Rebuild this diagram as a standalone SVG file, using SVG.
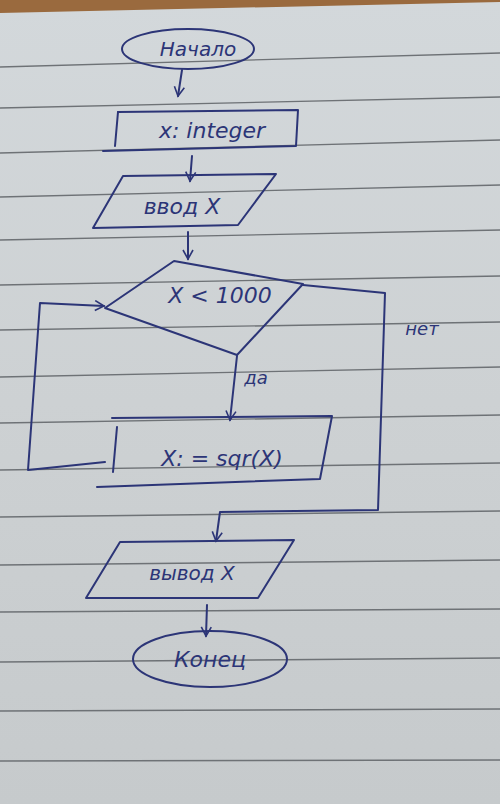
<svg xmlns="http://www.w3.org/2000/svg" width="500" height="804" viewBox="0 0 500 804">
<defs>
<linearGradient id="paper" x1="0" y1="0" x2="0" y2="1">
<stop offset="0" stop-color="#d3d8db"/>
<stop offset="0.5" stop-color="#cdd1d3"/>
<stop offset="1" stop-color="#c6cacc"/>
</linearGradient>
<marker id="arr" viewBox="0 0 12 12" refX="10" refY="6" markerWidth="12" markerHeight="12" markerUnits="userSpaceOnUse" orient="auto">
<path d="M1,1 L10,6 L1,11" fill="none" stroke="#2c3577" stroke-width="1.6"/>
</marker>
<style>
.ink{fill:none;stroke:#2c3577;stroke-width:2;stroke-linejoin:round;stroke-linecap:round}
.rule{stroke:#6e7276;stroke-width:1.4}
.t{font-family:"DejaVu Sans","Liberation Sans",sans-serif;font-style:italic;fill:#2c3577;text-anchor:middle}
</style>
</defs>
<rect width="500" height="804" fill="url(#paper)"/>
<polygon points="0,0 500,0 500,2 0,13" fill="#9a6a3e"/>
<g id="ruling">
<line class="rule" x1="0" y1="67" x2="500" y2="53"/>
<line class="rule" x1="0" y1="108" x2="500" y2="97"/>
<line class="rule" x1="0" y1="153" x2="500" y2="140"/>
<line class="rule" x1="0" y1="197" x2="500" y2="185"/>
<line class="rule" x1="0" y1="240" x2="500" y2="230"/>
<line class="rule" x1="0" y1="285" x2="500" y2="276"/>
<line class="rule" x1="0" y1="330" x2="500" y2="322"/>
<line class="rule" x1="0" y1="377" x2="500" y2="367"/>
<line class="rule" x1="0" y1="423" x2="500" y2="415"/>
<line class="rule" x1="0" y1="470" x2="500" y2="463"/>
<line class="rule" x1="0" y1="517" x2="500" y2="511"/>
<line class="rule" x1="0" y1="565" x2="500" y2="560"/>
<line class="rule" x1="0" y1="612" x2="500" y2="609"/>
<line class="rule" x1="0" y1="662" x2="500" y2="658"/>
<line class="rule" x1="0" y1="711" x2="500" y2="709"/>
<line class="rule" x1="0" y1="761" x2="500" y2="760"/>
</g>
<g id="connectors">
<path class="ink" d="M182,70 L178,96" marker-end="url(#arr)"/>
<path class="ink" d="M192,156 L190,181" marker-end="url(#arr)"/>
<path class="ink" d="M188,232 L188,259" marker-end="url(#arr)"/>
<path class="ink" d="M237,356 L230,420" marker-end="url(#arr)"/>
<path class="ink" d="M105,462 L28,470 L40,303 L104,306" marker-end="url(#arr)"/>
<path class="ink" d="M303,285 L385,293 L378,510 L220,512 L216,541" marker-end="url(#arr)"/>
<path class="ink" d="M207,605 L206,636" marker-end="url(#arr)"/>
<text class="t" x="256" y="384" font-size="18">да</text>
<text class="t" x="422" y="335" font-size="18">нет</text>
</g>
<g id="start">
<ellipse class="ink" cx="188" cy="49" rx="66" ry="20"/>
<text class="t" x="198" y="56" font-size="20">Начало</text>
</g>
<g id="declare">
<path class="ink" d="M118,112 L298,110 L296,146 L103,151"/>
<line class="ink" x1="118" y1="112" x2="115" y2="146"/>
<text class="t" x="212" y="138" font-size="22">x: integer</text>
</g>
<g id="input">
<polygon class="ink" points="123,176 276,174 238,225 93,228"/>
<text class="t" x="182" y="214" font-size="22">ввод X</text>
</g>
<g id="decision">
<polygon class="ink" points="174,261 303,284 237,355 105,308"/>
<text class="t" x="220" y="303" font-size="22">X &lt; 1000</text>
</g>
<g id="assign">
<path class="ink" d="M112,418 L332,416 L320,479 L97,487"/>
<line class="ink" x1="117" y1="427" x2="113" y2="472"/>
<text class="t" x="222" y="466" font-size="22">X: = sqr(X)</text>
</g>
<g id="output">
<polygon class="ink" points="120,542 294,540 258,598 86,598"/>
<text class="t" x="192" y="580" font-size="20">вывод X</text>
</g>
<g id="end">
<ellipse class="ink" cx="210" cy="659" rx="77" ry="28"/>
<text class="t" x="210" y="667" font-size="22">Конец</text>
</g>
</svg>
